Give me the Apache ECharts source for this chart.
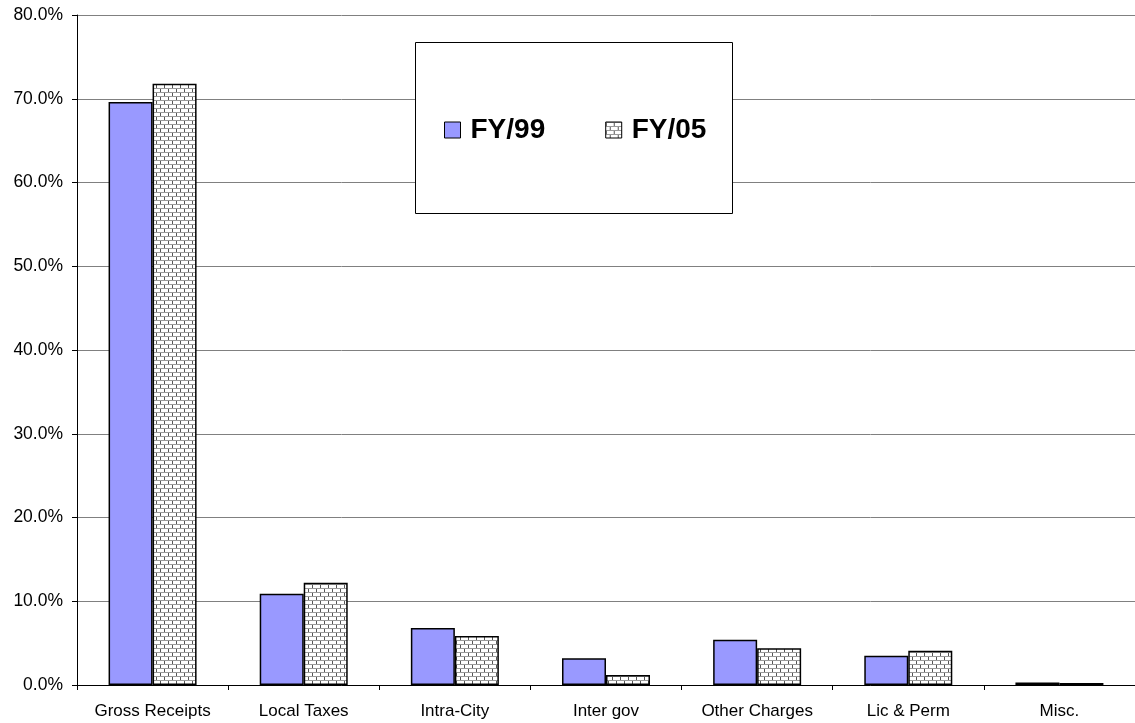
<!DOCTYPE html>
<html>
<head>
<meta charset="utf-8">
<script src="https://cdn.jsdelivr.net/npm/echarts@6/dist/echarts.min.js"></script>
<style>
  html, body { margin: 0; padding: 0; background: #fff; }
  #chart { width: 1135px; height: 723px; }
</style>
</head>
<body>
<div id="chart"></div>
<script>
// Revenue share by source, two fiscal years
const categories = ['Gross Receipts', 'Local Taxes', 'Intra-City', 'Inter gov', 'Other Charges', 'Lic & Perm', 'Misc.'];
const fy99 = [69.6, 10.9, 6.8, 3.2, 5.4, 3.5, 0.3];
const fy05 = [71.8, 12.2, 5.85, 1.2, 4.4, 4.1, 0.25];
const seriesNames = ['FY/99', 'FY/05'];

// Brick fill used for the second series
function brickPattern() {
  const c = document.createElement('canvas');
  c.width = 8; c.height = 8;
  const g = c.getContext('2d');
  g.fillStyle = '#ffffff';
  g.fillRect(0, 0, 8, 8);
  g.fillStyle = '#9a9a9a';
  g.fillRect(0, 0, 8, 1);
  g.fillRect(0, 4, 8, 1);
  g.fillStyle = '#555555';
  g.fillRect(0, 1, 1, 3);
  g.fillRect(4, 5, 1, 3);
  return c;
}
const brick = { image: brickPattern(), repeat: 'repeat' };

const chart = echarts.init(document.getElementById('chart'), null, { renderer: 'canvas' });
const font = 'Arial, "Liberation Sans", sans-serif';

chart.setOption({
  animation: false,
  backgroundColor: '#ffffff',
  grid: { left: 77, right: 0, top: 15, bottom: 38, containLabel: false },
  xAxis: {
    type: 'category',
    data: categories,
    axisLine: { lineStyle: { color: '#000', width: 1 } },
    axisTick: { show: true, length: 5, lineStyle: { color: '#000' } },
    axisLabel: { color: '#000', fontSize: 17, fontFamily: font, margin: 18, interval: 0 }
  },
  yAxis: {
    type: 'value',
    min: 0, max: 80, interval: 10,
    axisLine: { show: true, lineStyle: { color: '#000', width: 1 } },
    axisTick: { show: true, length: 5, lineStyle: { color: '#000' } },
    axisLabel: {
      color: '#000', fontSize: 17.5, fontFamily: font, margin: 14,
      formatter: v => v.toFixed(1) + '%'
    },
    splitLine: { show: true, lineStyle: { color: '#808080', width: 1 } }
  },
  graphic: [{
    type: 'rect',
    z: 5,
    shape: { x: 415.5, y: 42.5, width: 317, height: 171 },
    style: { fill: '#ffffff', stroke: '#000', lineWidth: 1 }
  }],
  legend: {
    z: 10,
    left: 444, top: 116,
    padding: 0,
    itemWidth: 16, itemHeight: 16,
    itemGap: 60,
    icon: 'rect',
    itemStyle: { borderColor: '#000', borderWidth: 1 },
    textStyle: { fontSize: 28, fontWeight: 'bold', fontFamily: font, color: '#000', padding: [0, 0, 0, 5] },
    data: seriesNames
  },
  series: [
    {
      name: seriesNames[0],
      type: 'bar',
      data: fy99,
      barWidth: 44,
      barGap: '0%',
      itemStyle: { color: '#9999ff', borderColor: '#000', borderWidth: 1.5 }
    },
    {
      name: seriesNames[1],
      type: 'bar',
      data: fy05,
      barWidth: 44,
      barGap: '0%',
      itemStyle: { color: brick, borderColor: '#000', borderWidth: 1.5 }
    }
  ]
});
</script>
</body>
</html>
